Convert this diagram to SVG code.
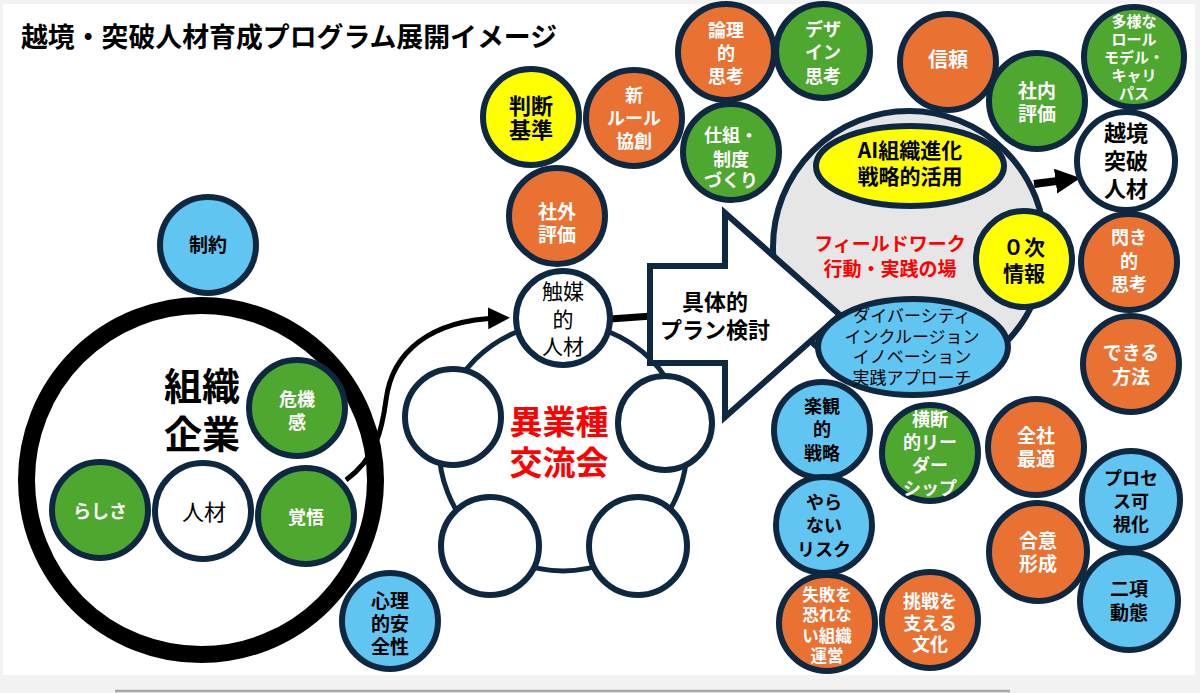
<svg xmlns="http://www.w3.org/2000/svg" width="1200" height="693" viewBox="0 0 1200 693">
<defs>
<style>
.bg{fill:#f2f2f2}
.n{stroke:#0E2841;stroke-width:6}
.o{fill:#E97132}.g{fill:#4EA72E}.b{fill:#61C5F2}.y{fill:#FFFF00}.wf{fill:#ffffff}.gr{fill:#E6E6E6}
.t{font-family:"Noto Sans CJK JP","Noto Sans",sans-serif;font-weight:700;text-anchor:middle;font-size:18px}
.r{font-weight:400}
.w{fill:#fff}.k{fill:#000}.red{fill:#FF0000}
.c{fill:none;stroke:#0E2841;stroke-width:5}
.bk{fill:none;stroke:#000}
</style>
<marker id="ah" viewBox="0 0 10 10" refX="5" refY="5" markerWidth="22" markerHeight="22" markerUnits="userSpaceOnUse" orient="auto"><path d="M0,0 L10,5 L0,10 z" fill="#000"/></marker>
<marker id="ah2" viewBox="0 0 10 10" refX="5" refY="5" markerWidth="25" markerHeight="25" markerUnits="userSpaceOnUse" orient="auto"><path d="M0,0 L10,5 L0,10 z" fill="#000"/></marker>
</defs>
<rect class="bg" x="0" y="0" width="1200" height="693"/>
<rect fill="#fff" x="3" y="4" width="1192" height="671"/>
<line x1="115" y1="691" x2="1010" y2="691" stroke="#a6a6a6" stroke-width="2.5"/>
<text class="t k" x="21" y="47" style="font-size:27px;text-anchor:start" textLength="536" lengthAdjust="spacingAndGlyphs">越境・突破人材育成プログラム展開イメージ</text>

<g id="connectors">
<circle class="c" cx="563" cy="447" r="124"/>
<line x1="610" y1="319" x2="652" y2="316" stroke="#000" stroke-width="7"/>
<path class="bk" stroke-width="5" d="M346,480 C376,458 382,430 386,400 C392,352 430,320 499,318" marker-end="url(#ah)"/>
<path class="bk" stroke-width="8" d="M1034,184 L1068,179.6" marker-end="url(#ah2)"/>
</g>

<g id="n-org">
<circle cx="201" cy="480" r="174.5" fill="none" stroke="#000" stroke-width="17"/>
<text class="t k" style="font-size:38px"><tspan x="202" y="400">組織</tspan><tspan x="202" y="448">企業</tspan></text>
</g>
<g id="n-seiyaku"><circle class="n b" cx="208" cy="245" r="48"/><text class="t k" x="208" y="252" style="font-size:19px">制約</text></g>
<g id="n-kiki"><circle class="n g" cx="297" cy="408" r="48"/><text class="t w"><tspan x="297" y="406">危機</tspan><tspan x="297" y="429">感</tspan></text></g>
<g id="n-rashisa"><circle class="n g" cx="100" cy="510" r="48"/><text class="t w" x="100" y="518">らしさ</text></g>
<g id="n-jinzai"><circle class="n wf" cx="203" cy="511" r="48"/><text class="t k r" x="204" y="520" style="font-size:22px">人材</text></g>
<g id="n-kakugo"><circle class="n g" cx="306" cy="516" r="48"/><text class="t w" x="306" y="524">覚悟</text></g>
<g id="n-shinri"><circle class="n b" cx="390" cy="621" r="48"/><text class="t k" style="font-size:19px"><tspan x="390" y="608">心理</tspan><tspan x="390" y="631">的安</tspan><tspan x="390" y="654">全性</tspan></text></g>

<g id="n-handan"><circle class="n y" cx="531" cy="117" r="48"/><text class="t k" style="font-size:22px"><tspan x="531" y="114">判断</tspan><tspan x="531" y="138">基準</tspan></text></g>
<g id="n-shinrule"><circle class="n o" cx="634" cy="118" r="48"/><text class="t w"><tspan x="634" y="102">新</tspan><tspan x="634" y="125">ルール</tspan><tspan x="634" y="148">協創</tspan></text></g>
<g id="n-ronri"><circle class="n o" cx="726" cy="52" r="48"/><text class="t w"><tspan x="726" y="37">論理</tspan><tspan x="726" y="60">的</tspan><tspan x="726" y="83">思考</tspan></text></g>
<g id="n-design"><circle class="n g" cx="823" cy="51" r="47"/><text class="t w"><tspan x="823" y="36">デザ</tspan><tspan x="823" y="59">イン</tspan><tspan x="823" y="83">思考</tspan></text></g>
<g id="n-shikumi"><circle class="n g" cx="731" cy="152" r="48"/><text class="t w"><tspan x="731" y="142">仕組・</tspan><tspan x="731" y="166">制度</tspan><tspan x="731" y="187">づくり</tspan></text></g>
<g id="n-shinrai"><circle class="n o" cx="948" cy="62" r="48"/><text class="t w" x="948" y="67" style="font-size:20px">信頼</text></g>
<g id="n-shanai"><circle class="n g" cx="1037" cy="101" r="48"/><text class="t w" style="font-size:19px"><tspan x="1037" y="98">社内</tspan><tspan x="1037" y="121">評価</tspan></text></g>
<g id="n-tayou"><circle class="n g" cx="1134" cy="57" r="50"/>
<text class="t w" style="font-size:15px"><tspan x="1134" y="27">多様な</tspan><tspan x="1134" y="45">ロール</tspan><tspan x="1134" y="63">モデル・</tspan><tspan x="1134" y="81">キャリ</tspan><tspan x="1134" y="99">パス</tspan></text></g>
<g id="n-ekkyou"><circle class="n wf" cx="1126" cy="161" r="49"/><text class="t k" style="font-size:22px"><tspan x="1126" y="141">越境</tspan><tspan x="1126" y="169">突破</tspan><tspan x="1126" y="197">人材</tspan></text></g>

<g id="n-shagai"><circle class="n o" cx="557" cy="216" r="48"/><text class="t w" style="font-size:19px"><tspan x="557" y="219">社外</tspan><tspan x="557" y="242">評価</tspan></text></g>
<g id="n-shokubai"><circle class="n wf" cx="563" cy="318" r="47"/><text class="t k r" style="font-size:21px"><tspan x="563" y="299">触媒</tspan><tspan x="563" y="327">的</tspan><tspan x="563" y="354">人材</tspan></text></g>
<g id="n-p1"><circle class="n wf" cx="453" cy="417" r="48"/></g>
<g id="n-p2"><circle class="n wf" cx="665" cy="423" r="47"/></g>
<g id="n-p3"><circle class="n wf" cx="490" cy="546" r="49"/></g>
<g id="n-p4"><circle class="n wf" cx="638" cy="546" r="49"/></g>
<g id="n-igyoushu"><text class="t red" style="font-size:33px"><tspan x="559" y="434">異業種</tspan><tspan x="559" y="475">交流会</tspan></text></g>

<g id="n-field"><circle class="n gr" cx="909" cy="247" r="136"/><text class="t red" style="font-size:19px"><tspan x="890" y="251">フィールドワーク</tspan><tspan x="890" y="276">行動・実践の場</tspan></text></g>
<g id="n-plan"><polygon class="n wf" points="650,266 725,266 725,213 840,315 725,417 725,363 650,363"/><text class="t k" style="font-size:22px"><tspan x="715" y="310">具体的</tspan><tspan x="715" y="338">プラン検討</tspan></text></g>
<g id="n-ai"><ellipse class="n y" cx="910" cy="166" rx="94" ry="40"/><text class="t k" style="font-size:21px"><tspan x="910" y="158">AI組織進化</tspan><tspan x="910" y="184">戦略的活用</tspan></text></g>
<g id="n-zeroji"><circle class="n y" cx="1024" cy="259" r="48"/><text class="t k" style="font-size:21px"><tspan x="1024" y="255">０次</tspan><tspan x="1024" y="281">情報</tspan></text></g>
<g id="n-diversity"><ellipse class="n b" cx="913" cy="347" rx="95" ry="48"/>
<text class="t k r" style="font-size:17px"><tspan x="912" y="322">ダイバーシティ</tspan><tspan x="912" y="343">インクルージョン</tspan><tspan x="912" y="363">イノベーション</tspan><tspan x="912" y="384">実践アプローチ</tspan></text></g>
<g id="n-hirameki"><circle class="n o" cx="1129" cy="262" r="48"/><text class="t w"><tspan x="1129" y="244">閃き</tspan><tspan x="1129" y="268">的</tspan><tspan x="1129" y="291">思考</tspan></text></g>
<g id="n-dekiru"><circle class="n o" cx="1131" cy="364" r="48"/><text class="t w" style="font-size:19px"><tspan x="1131" y="360">できる</tspan><tspan x="1131" y="384">方法</tspan></text></g>
<g id="n-rakkan"><circle class="n b" cx="822" cy="430" r="48"/><text class="t k"><tspan x="822" y="413">楽観</tspan><tspan x="822" y="436">的</tspan><tspan x="822" y="460">戦略</tspan></text></g>
<g id="n-oudan"><circle class="n g" cx="930" cy="453" r="48"/><text class="t w"><tspan x="930" y="426">横断</tspan><tspan x="930" y="449">的リー</tspan><tspan x="930" y="472">ダー</tspan><tspan x="930" y="495">シップ</tspan></text></g>
<g id="n-zensha"><circle class="n o" cx="1036" cy="447" r="48"/><text class="t w" style="font-size:19px"><tspan x="1036" y="443">全社</tspan><tspan x="1036" y="466">最適</tspan></text></g>
<g id="n-process"><circle class="n b" cx="1131" cy="500" r="49"/><text class="t k"><tspan x="1131" y="485">プロセ</tspan><tspan x="1131" y="508">ス可</tspan><tspan x="1131" y="531">視化</tspan></text></g>
<g id="n-yaranai"><circle class="n b" cx="824" cy="525" r="48"/><text class="t k"><tspan x="824" y="509">やら</tspan><tspan x="824" y="532">ない</tspan><tspan x="824" y="556">リスク</tspan></text></g>
<g id="n-goui"><circle class="n o" cx="1038" cy="552" r="49"/><text class="t w" style="font-size:19px"><tspan x="1038" y="548">合意</tspan><tspan x="1038" y="571">形成</tspan></text></g>
<g id="n-nikou"><circle class="n b" cx="1129" cy="601" r="49"/><text class="t k" style="font-size:19px"><tspan x="1129" y="596">二項</tspan><tspan x="1129" y="620">動態</tspan></text></g>
<g id="n-shippai"><circle class="n o" cx="827" cy="623" r="48"/><text class="t w" style="font-size:16.5px"><tspan x="827" y="601">失敗を</tspan><tspan x="827" y="621">恐れな</tspan><tspan x="827" y="642">い組織</tspan><tspan x="827" y="662">運営</tspan></text></g>
<g id="n-chousen"><circle class="n o" cx="930" cy="620" r="48"/><text class="t w"><tspan x="930" y="608">挑戦を</tspan><tspan x="930" y="630">支える</tspan><tspan x="930" y="651">文化</tspan></text></g>
</svg>
